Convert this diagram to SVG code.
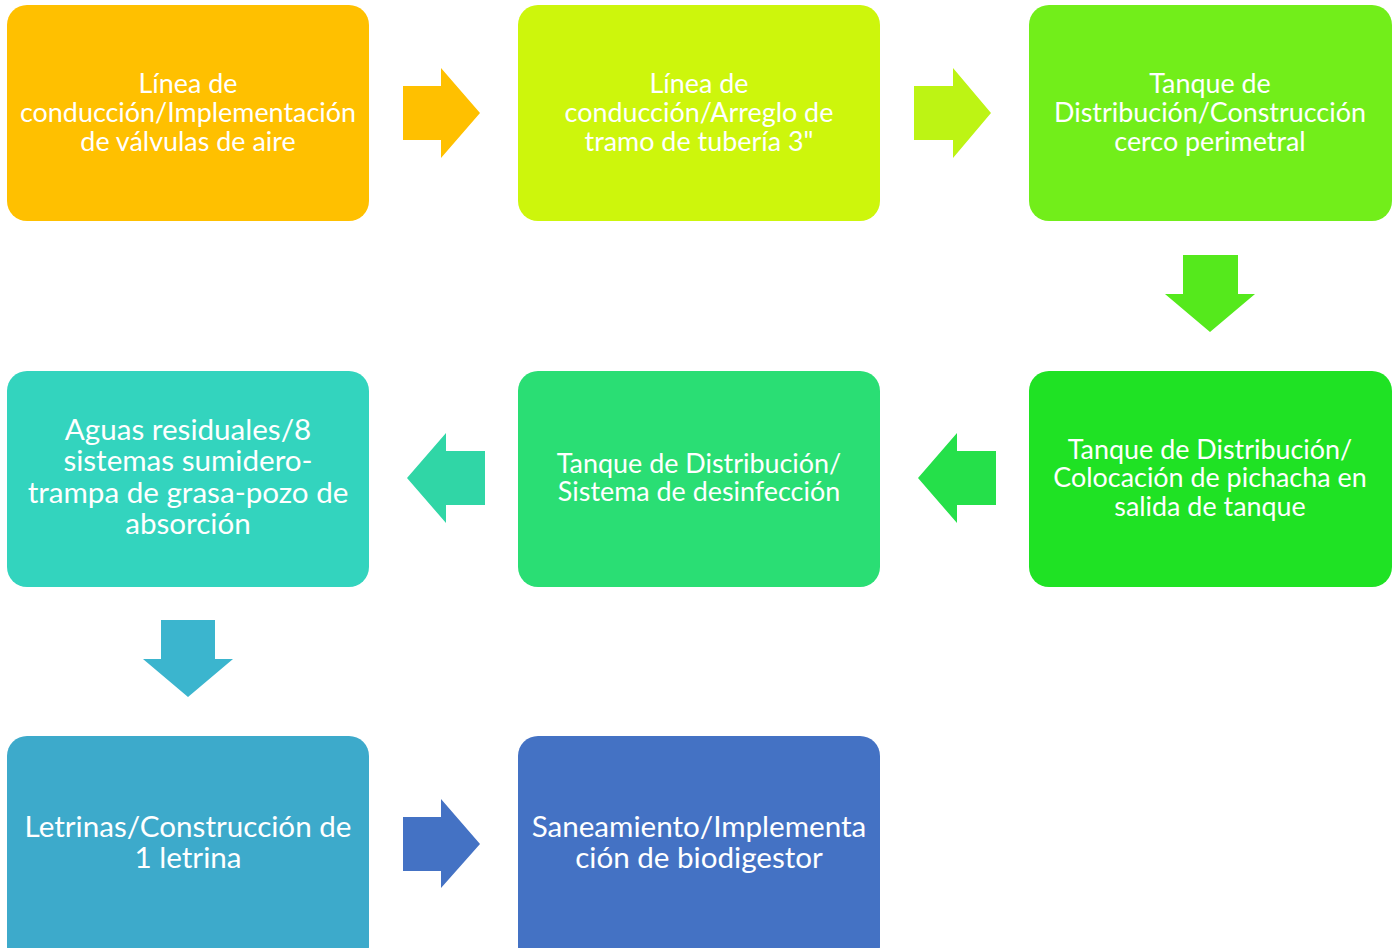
<svg xmlns="http://www.w3.org/2000/svg" width="1398" height="948" viewBox="0 0 1398 948">
<style>
.t{font-family:Lato,"Open Sans","Liberation Sans",sans-serif;fill:#fff;text-anchor:middle;font-size:26.9px}
.L{font-size:29.6px}
</style>
<rect width="1398" height="948" fill="#fff"/>
<g id="connectors">
<polygon fill="#FFC000" points="403,86 441,86 441,68 480,113 441,158 441,140 403,140"/>
<polygon fill="#BDF414" points="914,86 953,86 953,68 991,113 953,158 953,140 914,140"/>
<polygon fill="#55E91C" points="1183,255 1238,255 1238,294 1255,294 1210,332 1165,294 1183,294"/>
<polygon fill="#25E04A" points="996,451 957,451 957,433 918,478 957,523 957,505 996,505"/>
<polygon fill="#30D6A6" points="485,451 446,451 446,433 407,478 446,523 446,505 485,505"/>
<polygon fill="#3BB5CE" points="161,620 215,620 215,659 233,659 188,697 143,659 161,659"/>
<polygon fill="#4472C4" points="403,817 441,817 441,799 480,844 441,888 441,871 403,871"/>
</g>
<g id="n1"><rect x="7" y="5" width="362" height="216" rx="20" fill="#FFC000"/>
<text class="t"><tspan x="188" y="93">Línea de</tspan><tspan x="188" y="122">conducción/Implementación</tspan><tspan x="188" y="151">de válvulas de aire</tspan></text></g>
<g id="n2"><rect x="518" y="5" width="362" height="216" rx="20" fill="#CDF60C"/>
<text class="t"><tspan x="699" y="93">Línea de</tspan><tspan x="699" y="122">conducción/Arreglo de</tspan><tspan x="699" y="151">tramo de tubería 3"</tspan></text></g>
<g id="n3"><rect x="1029" y="5" width="363" height="216" rx="20" fill="#72EE1A"/>
<text class="t"><tspan x="1210" y="93">Tanque de</tspan><tspan x="1210" y="122">Distribución/Construcción</tspan><tspan x="1210" y="151">cerco perimetral</tspan></text></g>
<g id="n4"><rect x="1029" y="371" width="363" height="216" rx="20" fill="#1FE224"/>
<text class="t"><tspan x="1210" y="459">Tanque de Distribución/</tspan><tspan x="1210" y="487">Colocación de pichacha en</tspan><tspan x="1210" y="516">salida de tanque</tspan></text></g>
<g id="n5"><rect x="518" y="371" width="362" height="216" rx="20" fill="#2ADE74"/>
<text class="t"><tspan x="699" y="473">Tanque de Distribución/</tspan><tspan x="699" y="501">Sistema de desinfección</tspan></text></g>
<g id="n6"><rect x="7" y="371" width="362" height="216" rx="20" fill="#33D4BE"/>
<text class="t L"><tspan x="188" y="440">Aguas residuales/8</tspan><tspan x="188" y="471">sistemas sumidero-</tspan><tspan x="188" y="503">trampa de grasa-pozo de</tspan><tspan x="188" y="534">absorción</tspan></text></g>
<g id="n7"><rect x="7" y="736" width="362" height="230" rx="20" fill="#3DAACB"/>
<text class="t L"><tspan x="188" y="837">Letrinas/Construcción de</tspan><tspan x="188" y="868">1 letrina</tspan></text></g>
<g id="n8"><rect x="518" y="736" width="362" height="230" rx="20" fill="#4472C4"/>
<text class="t L"><tspan x="699" y="837">Saneamiento/Implementa</tspan><tspan x="699" y="868">ción de biodigestor</tspan></text></g>
</svg>
